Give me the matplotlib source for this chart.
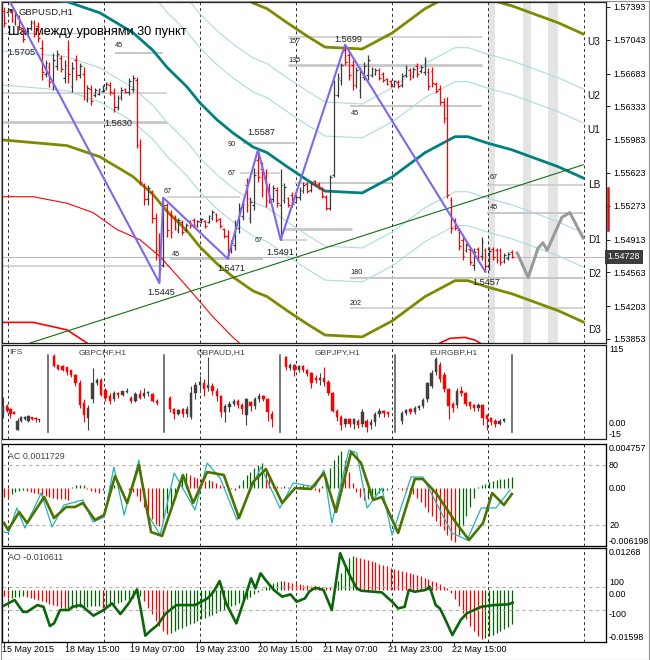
import numpy as np
import matplotlib
matplotlib.use("Agg")
import matplotlib.pyplot as plt
from matplotlib.transforms import blended_transform_factory as btf
from matplotlib.patches import Rectangle

plt.rcParams['font.family'] = ['Liberation Sans', 'DejaVu Sans']

W, H = 650, 660

# ---------------- GBPUSD,H1 bars ----------------
bar_open = [1.5735, 1.5734, 1.5734, 1.5723, 1.5728, 1.5715, 1.5713, 1.5717, 1.5722, 1.5719,
            1.5696, 1.5668, 1.5675, 1.5658, 1.5676, 1.5685, 1.5664, 1.5695, 1.5655, 1.5683,
            1.5667, 1.5668, 1.5641, 1.5652, 1.5645, 1.5647, 1.5650, 1.5653, 1.5656, 1.5648,
            1.5633, 1.5643, 1.5652, 1.5649, 1.5652, 1.5661, 1.5592, 1.5550, 1.5535, 1.5542,
            1.5514, 1.5480, 1.5464, 1.5528, 1.5518, 1.5514, 1.5502, 1.5510, 1.5502, 1.5511,
            1.5512, 1.5506, 1.5510, 1.5511, 1.5510, 1.5514, 1.5519, 1.5513, 1.5503, 1.5495,
            1.5480, 1.5485, 1.5504, 1.5516, 1.5550, 1.5514, 1.5528, 1.5576, 1.5566, 1.5557,
            1.5547, 1.5535, 1.5544, 1.5528, 1.5533, 1.5536, 1.5539, 1.5531, 1.5537, 1.5543,
            1.5551, 1.5544, 1.5554, 1.5551, 1.5545, 1.5537, 1.5525, 1.5560, 1.5645, 1.5661,
            1.5693, 1.5688, 1.5677, 1.5656, 1.5651, 1.5665, 1.5667, 1.5667, 1.5668, 1.5672,
            1.5668, 1.5663, 1.5660, 1.5655, 1.5659, 1.5656, 1.5667, 1.5672, 1.5666, 1.5676,
            1.5671, 1.5670, 1.5670, 1.5671, 1.5657, 1.5652, 1.5638, 1.5621, 1.5533, 1.5512,
            1.5502, 1.5491, 1.5480, 1.5481, 1.5464, 1.5481, 1.5474, 1.5480, 1.5463, 1.5481,
            1.5480, 1.5480, 1.5468, 1.5472, 1.5478]
bar_high = [1.5739, 1.5738, 1.5736, 1.5734, 1.5731, 1.5718, 1.5718, 1.5725, 1.5725, 1.5723,
            1.5704, 1.5683, 1.5681, 1.5690, 1.5693, 1.5688, 1.5683, 1.5704, 1.5681, 1.5688,
            1.5680, 1.5675, 1.5656, 1.5656, 1.5653, 1.5653, 1.5656, 1.5659, 1.5659, 1.5653,
            1.5645, 1.5654, 1.5653, 1.5664, 1.5667, 1.5665, 1.5598, 1.5552, 1.5550, 1.5544,
            1.5520, 1.5498, 1.5536, 1.5530, 1.5523, 1.5518, 1.5514, 1.5512, 1.5509, 1.5512,
            1.5514, 1.5512, 1.5514, 1.5512, 1.5518, 1.5523, 1.5520, 1.5514, 1.5504, 1.5502,
            1.5491, 1.5512, 1.5530, 1.5533, 1.5557, 1.5537, 1.5568, 1.5587, 1.5574, 1.5566,
            1.5552, 1.5550, 1.5547, 1.5566, 1.5552, 1.5537, 1.5542, 1.5539, 1.5547, 1.5553,
            1.5553, 1.5553, 1.5555, 1.5553, 1.5547, 1.5539, 1.5560, 1.5661, 1.5669, 1.5680,
            1.5699, 1.5693, 1.5683, 1.5675, 1.5675, 1.5681, 1.5688, 1.5675, 1.5674, 1.5674,
            1.5670, 1.5664, 1.5661, 1.5661, 1.5661, 1.5669, 1.5677, 1.5674, 1.5675, 1.5680,
            1.5677, 1.5686, 1.5674, 1.5675, 1.5659, 1.5656, 1.5642, 1.5643, 1.5537, 1.5514,
            1.5504, 1.5494, 1.5488, 1.5483, 1.5482, 1.5483, 1.5494, 1.5482, 1.5483, 1.5483,
            1.5482, 1.5482, 1.5477, 1.5478, 1.5480]
bar_low = [1.5718, 1.5733, 1.5723, 1.5720, 1.5715, 1.5702, 1.5712, 1.5715, 1.5707, 1.5702,
           1.5661, 1.5665, 1.5654, 1.5651, 1.5672, 1.5670, 1.5658, 1.5658, 1.5649, 1.5661,
           1.5664, 1.5640, 1.5638, 1.5635, 1.5643, 1.5645, 1.5649, 1.5651, 1.5645, 1.5627,
           1.5629, 1.5640, 1.5648, 1.5645, 1.5649, 1.5589, 1.5550, 1.5528, 1.5528, 1.5509,
           1.5470, 1.5445, 1.5462, 1.5494, 1.5493, 1.5502, 1.5498, 1.5496, 1.5499, 1.5504,
           1.5505, 1.5505, 1.5509, 1.5504, 1.5509, 1.5512, 1.5510, 1.5504, 1.5493, 1.5471,
           1.5477, 1.5480, 1.5498, 1.5512, 1.5521, 1.5509, 1.5523, 1.5553, 1.5537, 1.5526,
           1.5530, 1.5531, 1.5526, 1.5491, 1.5530, 1.5526, 1.5526, 1.5530, 1.5533, 1.5541,
           1.5541, 1.5542, 1.5548, 1.5545, 1.5536, 1.5523, 1.5523, 1.5558, 1.5643, 1.5656,
           1.5677, 1.5661, 1.5651, 1.5653, 1.5642, 1.5661, 1.5661, 1.5665, 1.5667, 1.5661,
           1.5659, 1.5656, 1.5654, 1.5654, 1.5653, 1.5654, 1.5665, 1.5661, 1.5664, 1.5665,
           1.5669, 1.5667, 1.5651, 1.5654, 1.5648, 1.5635, 1.5616, 1.5536, 1.5498, 1.5502,
           1.5480, 1.5469, 1.5478, 1.5464, 1.5459, 1.5469, 1.5469, 1.5457, 1.5459, 1.5469,
           1.5466, 1.5464, 1.5466, 1.5469, 1.5472]
bar_close = [1.5722, 1.5737, 1.5725, 1.5731, 1.5718, 1.5705, 1.5717, 1.5723, 1.5711, 1.5706,
             1.5670, 1.5680, 1.5659, 1.5683, 1.5689, 1.5673, 1.5677, 1.5668, 1.5674, 1.5667,
             1.5676, 1.5648, 1.5653, 1.5639, 1.5651, 1.5652, 1.5655, 1.5657, 1.5649, 1.5633,
             1.5642, 1.5651, 1.5649, 1.5660, 1.5664, 1.5592, 1.5553, 1.5535, 1.5546, 1.5514,
             1.5480, 1.5461, 1.5528, 1.5502, 1.5499, 1.5504, 1.5512, 1.5499, 1.5507, 1.5506,
             1.5507, 1.5511, 1.5513, 1.5506, 1.5516, 1.5521, 1.5512, 1.5506, 1.5495, 1.5475,
             1.5488, 1.5507, 1.5525, 1.5529, 1.5528, 1.5531, 1.5560, 1.5558, 1.5544, 1.5533,
             1.5535, 1.5546, 1.5530, 1.5550, 1.5547, 1.5528, 1.5529, 1.5537, 1.5544, 1.5550,
             1.5543, 1.5551, 1.5548, 1.5545, 1.5538, 1.5525, 1.5558, 1.5645, 1.5664, 1.5677,
             1.5681, 1.5667, 1.5656, 1.5672, 1.5670, 1.5676, 1.5683, 1.5673, 1.5672, 1.5664,
             1.5661, 1.5657, 1.5655, 1.5660, 1.5655, 1.5666, 1.5674, 1.5664, 1.5673, 1.5668,
             1.5675, 1.5683, 1.5655, 1.5658, 1.5650, 1.5638, 1.5621, 1.5539, 1.5504, 1.5504,
             1.5484, 1.5474, 1.5486, 1.5467, 1.5478, 1.5473, 1.5489, 1.5463, 1.5479, 1.5473,
             1.5469, 1.5467, 1.5475, 1.5476, 1.54728]
bid_price = 1.54728

price_ticks = [1.57393, 1.57043, 1.56683, 1.56333, 1.55983, 1.55623,
               1.55273, 1.54913, 1.54563, 1.54203, 1.53853]

# channel middle line (teal) and level offsets
mid_x = [-0.3, 16.6, 25.3, 34.0, 39.3, 43.0, 48.3, 51.7, 56.2, 60.4, 65.7, 69.4,
         74.7, 79.9, 84.7, 94.5, 102.4, 111.1, 119.0, 122.4, 127.7, 134.0, 146.2, 152.8]
mid_y = [1.5751, 1.5745, 1.5733, 1.5712, 1.5693, 1.5675, 1.5654, 1.5637, 1.5619, 1.5605,
         1.5590, 1.5584, 1.5569, 1.5555, 1.5543, 1.5541, 1.5558, 1.5584, 1.5601, 1.5601,
         1.5594, 1.5587, 1.5569, 1.5557]
band_steps = [0.00587, 0.00949, 0.01535]
band_names = ["U3", "U2", "U1", "LB", "D1", "D2", "D3"]
band_label_y = [1.5702, 1.5644, 1.5608, 1.5550, 1.5491, 1.5455, 1.5395]

red_ma_x = [-0.3, 7.7, 16.6, 23.5, 29.8, 35.9, 41.2, 48.3, 55.1, 60.4, 64.9]
red_ma_y = [1.5537, 1.5537, 1.5530, 1.5520, 1.5502, 1.5491, 1.5473, 1.5441, 1.5409, 1.5387, 1.5371]
red_ma2_x = [-0.3, 7.7, 16.6, 21.9, 25.3]
red_ma2_y = [1.5403, 1.5403, 1.5395, 1.5381, 1.5371]
red_arc_x = [115.0, 117.7, 121.6, 124.3, 125.6]
red_arc_y = [1.5381, 1.5386, 1.5387, 1.5384, 1.5381]

trend_x = [6.9, 152.8]
trend_y = [1.5381, 1.5571]

zz_x = [0, 41, 42, 59, 67, 73, 90, 127]
zz_y = [1.5757, 1.5445, 1.5536, 1.5471, 1.5587, 1.5491, 1.5699, 1.5457]
pivot_labels = [("1.5705", 4.7, 1.5691), ("1.5630", 30.3, 1.5615), ("1.5445", 41.5, 1.5435),
                ("1.5471", 60.0, 1.5460), ("1.5587", 67.8, 1.5605), ("1.5491", 73.0, 1.5478),
                ("1.5699", 90.8, 1.5705), ("1.5457", 127.2, 1.5445)]

# horizontal level segments: start, end, price, width
levels = [(-0.3, 25.3, 1.5712, 0.9), (29.3, 42.0, 1.5690, 1.4), (-0.3, 43.0, 1.5648, 1.1),
          (-0.3, 43.0, 1.5617, 2.0), (63.1, 76.8, 1.5594, 1.4), (62.3, 72.8, 1.5562, 1.1),
          (43.0, 62.3, 1.5537, 1.1), (76.8, 102.4, 1.5552, 1.4), (73.6, 91.8, 1.5503, 2.0),
          (72.8, 80.0, 1.5491, 1.1), (43.8, 68.3, 1.5471, 1.4), (-0.3, 43.8, 1.5463, 1.1),
          (74.9, 126.1, 1.5677, 2.0), (74.9, 126.1, 1.5707, 1.1), (91.3, 126.1, 1.5634, 1.4),
          (127.4, 152.8, 1.5550, 1.1), (127.4, 152.8, 1.5520, 1.4), (91.3, 152.8, 1.5450, 1.4),
          (91.3, 152.8, 1.5418, 1.1)]
level_labels = [("45", 29.3, 1.5698), ("90", 59.1, 1.5593), ("67", 59.1, 1.5562),
                ("67", 42.0, 1.5543), ("67", 66.2, 1.5490), ("45", 44.3, 1.5475),
                ("157", 75.0, 1.5702), ("135", 75.0, 1.5682), ("45", 91.6, 1.5626),
                ("67", 128.2, 1.5557), ("45", 128.2, 1.5526), ("180", 91.3, 1.5456),
                ("202", 91.3, 1.5423)]

fc_x = [135.4, 138.3, 140.9, 142.2, 143.3, 147.2, 149.3, 152.8]
fc_y = [1.5477, 1.5451, 1.5482, 1.5488, 1.5480, 1.5515, 1.5520, 1.5493]
shade_spans = [(127.7, 129.6), (137.0, 139.1), (143.5, 146.2)]

day_sep = [1.1, 26.4, 51.7, 77.0, 102.4, 127.7, 153.0]
xlab = ["15 May 2015", "18 May 15:00", "19 May 07:00", "19 May 23:00",
        "20 May 15:00", "21 May 07:00", "21 May 23:00", "22 May 15:00"]
xlab_pos = [-0.5, 16.1, 33.2, 50.4, 67.0, 84.2, 101.3, 118.2]

# ---------------- IFS mini charts ----------------
ifs_names = ["IFS", "GBPCHF,H1", "GBPAUD,H1", "GBPJPY,H1", "EURGBP,H1"]
ifs_open = [
    [20, 31, 27, 23, -2, 10, 12, 10, 15, 14, 11],
    [100, 87, 86, 84, 80, 74, 63, 35, 14, 40, 62, 67, 53, 45, 40, 49, 46, 50, 42, 38, 47, 45, 48, 47, 38],
    [42, 27, 20, 27, 20, 16, 48, 60, 63, 56, 58, 52, 44, 22, 29, 34, 37, 32, 18, 36, 30, 40, 44, 40, 20],
    [98, 83, 87, 80, 86, 80, 76, 70, 66, 70, 64, 48, 24, 16, 6, 12, 6, 10, 6, 10, 4, 9, 20, 24, 22],
    [10, 21, 26, 22, 28, 31, 40, 58, 78, 88, 74, 54, 34, 32, 52, 48, 36, 32, 28, 32, 18, 14, 10, 6, 10]]
ifs_close = [
    [30, 24, 20, 20, 10, 16, 16, 17, 12, 12, 12],
    [86, 82, 81, 77, 73, 62, 32, 18, 28, 63, 67, 46, 42, 38, 49, 46, 51, 52, 37, 47, 42, 49, 50, 38, 35],
    [26, 20, 25, 20, 26, 48, 60, 64, 54, 60, 52, 44, 22, 30, 34, 37, 32, 26, 40, 30, 40, 44, 40, 22, 12],
    [84, 88, 80, 86, 80, 75, 62, 66, 70, 64, 48, 24, 15, 5, 12, 6, 12, 4, 22, 2, 8, 20, 24, 21, 20],
    [21, 25, 22, 28, 31, 39, 62, 76, 95, 68, 54, 30, 28, 52, 48, 34, 30, 28, 32, 14, 12, 8, 6, 10, 12]]
ifs_high = [
    [43, 33, 28, 24, 14, 17, 17, 18, 16, 15, 13],
    [102, 88, 87, 85, 81, 75, 66, 40, 32, 83, 69, 70, 55, 48, 52, 50, 52, 56, 44, 50, 53, 56, 52, 48, 40],
    [44, 28, 27, 28, 30, 58, 64, 72, 68, 98, 62, 56, 46, 34, 38, 40, 41, 35, 42, 38, 43, 48, 46, 42, 24],
    [100, 90, 89, 88, 87, 82, 78, 74, 76, 84, 66, 50, 26, 18, 14, 14, 14, 12, 26, 12, 12, 22, 28, 25, 23],
    [24, 27, 28, 30, 32, 42, 64, 80, 98, 92, 77, 56, 36, 56, 58, 50, 38, 34, 35, 34, 20, 16, 12, 12, 14]]
ifs_low = [
    [14, 22, 14, 19, -3, 9, 11, 8, 11, 8, 9],
    [84, 80, 79, 74, 71, 58, 28, 8, -3, 35, 60, 44, 38, 34, 37, 42, 44, 48, 35, 36, 40, 42, 45, 36, 32],
    [22, 12, 18, 16, 15, 12, 40, 50, 44, 52, 46, 38, 16, 8, 22, 30, 28, 20, 5, 24, 26, 36, 38, 10, 2],
    [80, 80, 72, 78, 77, 72, 55, 62, 60, 58, 46, 22, 10, -2, 2, 2, -1, 0, 2, -5, -1, 3, 16, 16, 15],
    [6, 18, 20, 20, 25, 28, 36, 55, 74, 64, 50, 12, 22, 28, 44, 30, 26, 24, 24, 4, -2, 4, 2, 4, 8]]
ifs_start = [-0.2, 13.2, 43.8, 74.4, 105.0]
ifs_step = [0.95, 1.13, 1.12, 1.12, 1.12]
ifs_sep = [11.6, 42.2, 72.8, 103.2, 134.0]
ifs_title_x = [1.4, 26.1, 57.3, 88.1, 118.5]

# ---------------- AC + stochastic ----------------
ac_vals = [-0.0009, -0.0010, -0.0006, -0.0004, -0.0003, -0.0002, -0.0003, -0.0004, -0.0005, -0.0006,
           -0.0007, -0.0008, -0.0009, -0.0010, -0.0011, -0.0012, -0.0012, -0.0013, 0.0001, 0.0003,
           0.0004, 0.0003, -0.0001, -0.0003, -0.0004, -0.0005, -0.0002, 0.0000, 0.0003, 0.0004,
           0.0002, 0.0001, 0.0000, -0.0002, -0.0004, -0.0008, -0.0014, -0.0020, -0.0027, -0.0033,
           -0.0038, -0.0041, -0.0035, -0.0027, -0.0019, -0.0010, 0.0003, 0.0010, 0.0016, 0.0014,
           0.0012, 0.0011, 0.0010, 0.0008, 0.0009, 0.0008, 0.0006, 0.0004, 0.0002, 0.0001,
           -0.0001, -0.0002, 0.0004, 0.0009, 0.0014, 0.0018, 0.0022, 0.0025, 0.0027, 0.0020,
           0.0012, 0.0006, 0.0002, 0.0001, 0.0002, 0.0001, 0.0000, 0.0001, 0.0002, 0.0003,
           0.0002, 0.0001, -0.0002, -0.0004, 0.0002, 0.0012, 0.0022, 0.0030, 0.0036, 0.0040,
           0.0030, 0.0018, 0.0006, -0.0004, -0.0009, -0.0013, -0.0011, -0.0009, -0.0007, -0.0005,
           -0.0003, -0.0002, -0.0001, 0.0000, -0.0001, -0.0002, -0.0003, -0.0004, -0.0006, -0.0010,
           -0.0015, -0.0020, -0.0025, -0.0030, -0.0035, -0.0040, -0.0045, -0.0050, -0.0055, -0.0058,
           -0.0050, -0.0040, -0.0030, -0.0020, -0.0010, 0.0001, 0.0003, 0.0005, 0.0007, 0.0008,
           0.0009, 0.0010, 0.00105, 0.0011, 0.0011729]
stk_x = [0, 1.1, 4.0, 6.1, 10.6, 13.2, 16.4, 18.7, 20.8, 24.0, 26.4, 29.3, 32.5, 35.6, 38.8,
         41.7, 47.2, 49.9, 53.6, 58.0, 62.0, 65.7, 69.1, 73.4, 76.8, 81.0, 84.4, 87.6, 91.6,
         94.2, 97.4, 99.7, 104.0, 108.4, 110.5, 114.0, 119.3, 122.7, 126.4, 128.8, 131.9, 134.0]
stk_main = [22, 15, 33, 22, 48, 27, 38, 38, 42, 25, 30, 69, 42, 80, 13, 9, 70, 42, 73, 70,
            27, 63, 76, 42, 57, 56, 72, 33, 93, 82, 45, 48, 12, 66, 66, 52, 22, 5, 22, 52, 40, 51]
sig_x = [0, 1.1, 3.4, 5.5, 9.8, 12.7, 15.8, 20.8, 23.5, 26.4, 29.0, 31.7, 35.6, 37.7, 41.2,
         44.9, 50.4, 53.6, 57.0, 61.5, 67.8, 72.8, 76.3, 82.1, 84.4, 86.5, 91.0, 93.1, 95.8,
         99.7, 102.4, 107.4, 110.5, 118.2, 122.2, 125.9, 129.8, 133.5]
sig_vals = [13, 12, 37, 17, 52, 18, 40, 45, 23, 28, 78, 30, 85, 32, 10, 72, 35, 82, 67, 25,
            78, 37, 62, 58, 75, 22, 95, 92, 37, 57, 10, 68, 68, 12, 5, 37, 37, 55]

# ---------------- AO + CCI ----------------
ao_vals = [-0.0020, -0.0026, -0.0025, -0.0023, -0.0022, -0.0021, -0.0024, -0.0027, -0.0030, -0.0033,
           -0.0036, -0.0039, -0.0043, -0.0047, -0.0051, -0.0055, -0.0058, -0.0057, -0.0056, -0.0055,
           -0.0054, -0.0053, -0.0052, -0.0051, -0.0050, -0.0049, -0.0055, -0.0052, -0.0049, -0.0045,
           -0.0041, -0.0037, -0.0033, -0.0029, -0.0026, -0.0023, -0.0020, -0.0035, -0.0055, -0.0075,
           -0.0095, -0.0110, -0.0125, -0.0136, -0.0131, -0.0126, -0.0121, -0.0116, -0.0111, -0.0106,
           -0.0101, -0.0096, -0.0091, -0.0086, -0.0081, -0.0076, -0.0071, -0.0066, -0.0061, -0.0056,
           -0.0051, -0.0046, -0.0041, -0.0035, -0.0029, -0.0022, -0.0014, -0.0006, 0.0002, 0.0009,
           0.0015, 0.0020, 0.0024, 0.0027, 0.0025, 0.0023, 0.0021, 0.0019, 0.0017, 0.0015,
           0.0013, 0.0012, 0.0011, 0.0010, 0.0009, 0.0008, 0.0007, 0.0005, 0.0025, 0.0050,
           0.0075, 0.0095, 0.0103, 0.0100, 0.0097, 0.0094, 0.0090, 0.0087, 0.0083, 0.0079,
           0.0075, 0.0071, 0.0067, 0.0063, 0.0060, 0.0057, 0.0054, 0.0051, 0.0048, 0.0044,
           0.0040, 0.0036, 0.0032, 0.0027, 0.0022, 0.0016, 0.0010, 0.0004, -0.0010, -0.0030,
           -0.0050, -0.0070, -0.0090, -0.0110, -0.0125, -0.0140, -0.0151, -0.0147, -0.0142, -0.0137,
           -0.0131, -0.0126, -0.0120, -0.0114, -0.010611]
cci_x = [0, 2.8, 5.0, 6.1, 8.8, 10.4, 12.1, 13.2, 14.8, 17.0, 18.1, 20.3, 23.6, 26.3, 28.5,
         30.7, 32.9, 35.1, 36.2, 37.3, 38.4, 40.5, 42.7, 45.5, 50.4, 53.7, 55.3, 56.9, 58.6,
         61.3, 63.5, 65.2, 66.3, 67.7, 69.0, 71.2, 73.4, 75.6, 77.2, 79.4, 80.5, 82.1, 84.3,
         86.5, 87.6, 88.7, 89.8, 91.4, 93.1, 94.2, 99.7, 102.4, 104.0, 105.7, 106.8, 108.4,
         111.2, 112.3, 113.9, 115.0, 116.1, 118.3, 120.5, 122.1, 125.9, 129.2, 133.1, 134.2]
cci_vals = [-62, -13, -116, -116, -57, -72, -239, -216, -100, -100, -72, -57, -149, -100, -42,
            -135, -42, 79, -116, -323, -288, -230, -129, -57, -57, 1, 59, 152, -42, -216,
            1, 175, 88, 219, 161, 74, 16, 36, -28, 1, 59, 94, 74, -100, 146, 393, 306, 190,
            88, 68, 53, -28, -86, -72, 74, 59, 74, 103, -57, -86, -158, -317, -187, -129,
            -72, -57, -51, -36]

RED = '#ff0000'
DARK = '#3a3a3a'
GREEN = '#006400'

fig = plt.figure(figsize=(W / 100, H / 100), dpi=100)
fig.patch.set_facecolor('white')


def px_axes(l, t, r, b):
    return fig.add_axes([l / W, 1 - b / H, (r - l) / W, (b - t) / H])


XL = (-0.53, 158.84)
ax = px_axes(2, 2, 606, 343)
ax_ifs = px_axes(2, 345, 606, 439)
ax_ac = px_axes(2, 444, 606, 546)
ax_ao = px_axes(2, 548, 606, 642)

for a in (ax, ax_ifs, ax_ac, ax_ao):
    a.set_xlim(*XL)
    a.set_xticks([])
    for s in a.spines.values():
        s.set_linewidth(0.9)
        s.set_color('#202020')
    for d in day_sep:
        a.axvline(d, color='#303030', lw=0.7, ls=(0, (3, 3)), zorder=1)


def rlabel(a, y, s, va='center'):
    a.text(1.005, y, s, transform=btf(a.transAxes, a.transData), fontsize=6.4,
           va=va, ha='left', clip_on=False)


# ---------------- main chart ----------------
ax.set_ylim(1.5381, 1.57446)
ax.yaxis.tick_right()
ax.set_yticks(price_ticks)
ax.set_yticklabels([f"{v:.5f}" for v in price_ticks], fontsize=6.4)
ax.tick_params(axis='y', length=3, width=0.6, pad=2)

for x0, x1 in shade_spans:
    ax.axvspan(x0, x1, color='#e4e4e4', lw=0, zorder=0)

mid = np.array(mid_y)
for k, step in enumerate(band_steps):
    colr, lw = ('#a9dbe3', 0.8) if k < 2 else ('#7f8a00', 2.0)
    ax.plot(mid_x, mid + step, color=colr, lw=lw, zorder=2)
    ax.plot(mid_x, mid - step, color=colr, lw=lw, zorder=2)
ax.plot(mid_x, mid, color='#00807f', lw=2.0, zorder=3)

ax.plot(red_ma_x, red_ma_y, color=RED, lw=0.8, zorder=2)
ax.plot(red_ma2_x, red_ma2_y, color=RED, lw=1.2, zorder=2)
ax.plot(red_arc_x, red_arc_y, color=RED, lw=1.2, zorder=2)
ax.plot(trend_x, trend_y, color='#107010', lw=0.8, zorder=3)

for x0, x1, p, lw in levels:
    ax.plot([x0, x1], [p, p], color='#c8c8c8', lw=lw, solid_capstyle='butt', zorder=1)
ax.axhline(bid_price, color='#bdbdbd', lw=0.8, zorder=1)

idx = np.arange(len(bar_close))
o = np.array(bar_open)
c = np.array(bar_close)
hi = np.maximum(np.array(bar_high), np.maximum(o, c))
lo = np.minimum(np.array(bar_low), np.minimum(o, c))
cols = np.where(c < o, RED, DARK)
ax.vlines(idx, lo, hi, colors=cols, lw=0.9, zorder=5)
ax.hlines(o, idx - 0.45, idx, colors=cols, lw=0.9, zorder=5)
ax.hlines(c, idx, idx + 0.45, colors=cols, lw=0.9, zorder=5)

ax.plot(zz_x, zz_y, color='#7b68ee', lw=1.5, zorder=6)
ax.plot(fc_x, fc_y, color='#9a9a9a', lw=2.2, zorder=4)

for s, x, y in pivot_labels:
    ax.text(x, y, s, fontsize=6.6, ha='center', va='center', color='#202020', zorder=7)
for s, x, y in level_labels:
    ax.text(x, y, s, fontsize=5.2, ha='left', va='center', color='#202020', zorder=7)
for s, y in zip(band_names, band_label_y):
    ax.text(154.0, y, s, fontsize=7.2, ha='left', va='center', color='#101010')

ax.text(0.028, 0.97, "GBPUSD,H1", transform=ax.transAxes, fontsize=6.8, ha='left',
        va='center', color='#202020')
ax.text(0.012, 0.97, "\u25bc", transform=ax.transAxes, fontsize=4, ha='left',
        va='center', color='#303030', family='DejaVu Sans')
ax.text(0.010, 0.913, "Шаг между уровнями 30 пункт", transform=ax.transAxes,
        fontsize=9.2, ha='left', va='center', color='black')

tr = btf(ax.transAxes, ax.transData)
ax.text(1.003, bid_price, f"{bid_price:.5f}", transform=tr, fontsize=6.4, color='white',
        ha='left', va='center', zorder=10,
        bbox=dict(boxstyle='square,pad=0.28', fc='#3c3c3c', ec='none'))
ax.plot([1.004, 1.004], [1.5546, 1.5502], transform=tr, color='#e01010', lw=1.8,
        clip_on=False)

# ---------------- IFS panel ----------------
ax_ifs.set_ylim(-15, 115)
ax_ifs.set_yticks([])
trf = btf(ax_ifs.transData, ax_ifs.transAxes)
for g in range(5):
    go = np.array(ifs_open[g])
    gc = np.array(ifs_close[g])
    gx = ifs_start[g] + ifs_step[g] * np.arange(len(go))
    gcol = np.where(gc < go, RED, '#404040')
    ax_ifs.vlines(gx, ifs_low[g], ifs_high[g], colors=gcol, lw=0.8, zorder=3)
    body = np.where(np.abs(gc - go) < 1.2, 1.2, np.abs(gc - go))
    ax_ifs.bar(gx, body, bottom=np.minimum(go, gc), width=0.62, color=gcol,
               edgecolor=gcol, lw=0.3, zorder=4)
    ax_ifs.text(ifs_title_x[g], 0.925, ifs_names[g], transform=trf, fontsize=6.1,
                ha='left' if g == 0 else 'center', va='center', color='#404040')
for s in ifs_sep:
    ax_ifs.plot([s, s], [0.074, 0.894], transform=trf, color='#505050', lw=1.1)
rlabel(ax_ifs, 115, "115", va='top')
rlabel(ax_ifs, 0, "0.00", va='bottom')
rlabel(ax_ifs, -15, "-15", va='bottom')

# ---------------- AC panel ----------------
ax_ac.set_ylim(-0.006198, 0.004757)
ax_ac.set_yticks([])
acv = np.array(ac_vals)
ac_col = [RED] + [GREEN if acv[i] > acv[i - 1] else RED for i in range(1, len(acv))]
ax_ac.vlines(np.arange(len(acv)), 0, acv, colors=ac_col, lw=0.9, zorder=2)
ax_st = ax_ac.twinx()
ax_st.set_ylim(-1, 101)
ax_st.set_yticks([])
ax_st.set_xlim(*XL)
for lv in (80, 20):
    ax_st.axhline(lv, color='#b0b0b0', lw=0.8, ls=(0, (3, 3)))
ax_st.plot(sig_x, sig_vals, color='#22b4b4', lw=0.9, zorder=3)
ax_st.plot(stk_x, stk_main, color='#4a7300', lw=1.9, zorder=4)
ax_ac.text(0.01, 0.88, "AC 0.0011729", transform=ax_ac.transAxes, fontsize=6.4,
           color='#404040', ha='left', va='center')
rlabel(ax_ac, 0.004757, "0.004757", va='top')
rlabel(ax_st, 80, "80")
rlabel(ax_ac, 0, "0.00")
rlabel(ax_st, 20, "20")
rlabel(ax_ac, -0.006198, "-0.006198", va='bottom')

# ---------------- AO panel ----------------
ax_ao.set_ylim(-0.01598, 0.01268)
ax_ao.set_yticks([])
aov = np.array(ao_vals)
ao_col = [RED] + [GREEN if aov[i] > aov[i - 1] else RED for i in range(1, len(aov))]
ax_ao.vlines(np.arange(len(aov)), 0, aov, colors=ao_col, lw=0.9, zorder=2)
ax_cci = ax_ao.twinx()
ax_cci.set_ylim(-378, 439)
ax_cci.set_yticks([])
ax_cci.set_xlim(*XL)
for lv in (100, -100):
    ax_cci.axhline(lv, color='#b0b0b0', lw=0.8, ls=(0, (3, 3)))
ax_cci.plot(cci_x, cci_vals, color='#0b650b', lw=1.9, zorder=4)
ax_ao.text(0.01, 0.9, "AO -0.010611", transform=ax_ao.transAxes, fontsize=6.4,
           color='#404040', ha='left', va='center')
rlabel(ax_ao, 0.01268, "0.01268", va='top')
rlabel(ax_cci, 100, "100", va='bottom')
rlabel(ax_ao, 0, "0.00", va='top')
rlabel(ax_cci, -100, "-100", va='top')
rlabel(ax_ao, -0.01598, "-0.01598", va='bottom')

trx = btf(ax_ao.transData, ax_ao.transAxes)
for s, x in zip(xlab, xlab_pos):
    ax_ao.text(x, -0.085, s, transform=trx, fontsize=6.5, ha='left', va='center',
               clip_on=False)
    ax_ao.plot([x + 0.5, x + 0.5], [0, -0.03], transform=trx, color='black', lw=0.6,
               clip_on=False)

fig.patches.append(Rectangle((0.5 / W, 0.5 / H), 1 - 1.5 / W, 1 - 1.5 / H,
                             transform=fig.transFigure, fill=False, ec='#909090', lw=0.8))

fig.savefig("out.png", dpi=100)
